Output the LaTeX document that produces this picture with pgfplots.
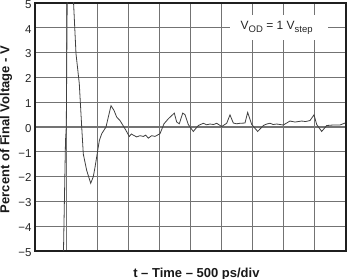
\documentclass[border=0pt]{standalone}
\usepackage{fontspec}
\setmainfont{Liberation Sans}
\usepackage{pgfplots}
\pgfplotsset{compat=1.18}
\newcommand{\sub}[1]{\raisebox{-0.28em}{\fontsize{9.5bp}{10bp}\selectfont #1}}
\begin{document}
\begin{tikzpicture}
\useasboundingbox (-35bp,-28bp) rectangle (313bp,251bp);
\begin{axis}[
  scale only axis, width=311bp, height=248bp,
  xmin=0, xmax=10, ymin=-5, ymax=5,
  xtick={0,1,...,10}, xticklabels={},
  ytick={-5,-4,...,5},
  yticklabels={−5,−4,−3,−2,−1,0,1,2,3,4,5},
  major tick length=0pt,
  grid=major,
  major grid style={draw=black!55, line width=1.1bp},
  axis line style={line width=2.4bp, black!88},
  tick label style={font=\fontsize{11.5bp}{13bp}\selectfont, text=black!85},
  yticklabel style={yshift=-1.3bp},
  xlabel={t – Time – 500 ps/div},
  ylabel={Percent of Final Voltage - V},
  label style={font=\bfseries\fontsize{13bp}{15bp}\selectfont, text=black!90},
  xlabel style={at={(axis description cs:0.519,-0.105)}, anchor=base},
  ylabel style={at={(axis description cs:-0.093,0.49)}, anchor=center},
  clip=true,
]
\addplot[draw=black!75, line width=0.8bp] table {
x y
0.884 -7
0.916 -5
0.981 -0.55
1.006 0
1.035 5
1.125 8
1.206 6
1.240 5
1.318 2.96
1.424 1.75
1.502 0
1.553 -1.09
1.662 -1.75
1.791 -2.27
1.875 -2.0
1.929 -1.63
2.068 -0.55
2.145 -0.27
2.283 0
2.357 0.4
2.444 0.86
2.540 0.67
2.627 0.4
2.733 0.26
2.894 -0.07
3.032 -0.38
3.100 -0.28
3.161 -0.33
3.270 -0.40
3.376 -0.35
3.482 -0.38
3.560 -0.33
3.643 -0.45
3.752 -0.35
3.859 -0.38
4.019 -0.27
4.148 0.13
4.286 0.33
4.479 0.56
4.556 0.20
4.640 0.13
4.749 0.56
4.823 0.50
4.929 0.10
5.090 -0.18
5.251 0.06
5.412 0.15
5.520 0.09
5.627 0.12
5.740 0.10
5.842 0.15
6.003 0.02
6.164 0.15
6.270 0.49
6.376 0.16
6.480 0.13
6.592 0.15
6.752 0.16
6.839 0.59
6.968 0.10
7.161 -0.18
7.341 0.06
7.450 0.12
7.556 0.15
7.660 0.10
7.772 0.12
7.984 0.08
8.199 0.24
8.360 0.20
8.576 0.24
8.700 0.22
8.842 0.26
8.971 0.49
9.058 0.10
9.219 -0.18
9.379 0.06
9.592 0.08
9.807 0.08
9.968 0.16
};
\node[fill=white, inner sep=0pt, minimum width=98bp, minimum height=25bp] at (axis cs:7.84,4.01) {};
\node[anchor=base, inner sep=0pt, font=\fontsize{12bp}{14bp}\selectfont, text=black!85] at (axis cs:7.77,3.94) {V\sub{OD} = 1 V\sub{step}};
\end{axis}
\end{tikzpicture}
\end{document}
